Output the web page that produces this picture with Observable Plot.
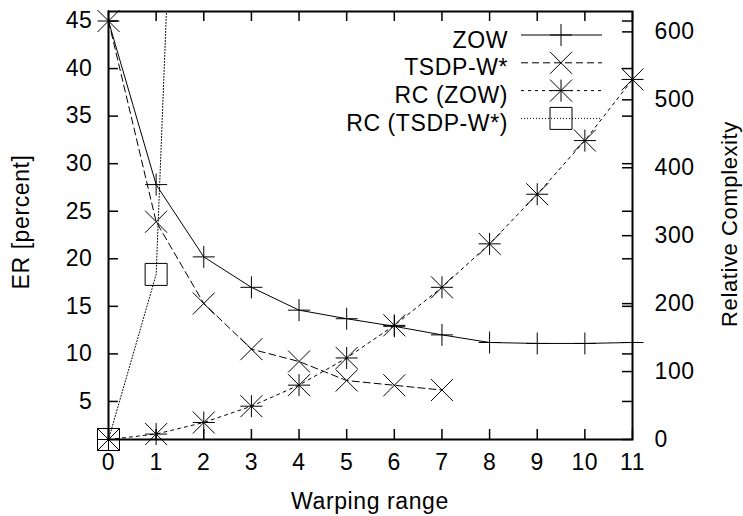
<!DOCTYPE html>
<html><head><meta charset="utf-8">
<script src="https://cdn.jsdelivr.net/npm/d3@7"></script>
<script src="https://cdn.jsdelivr.net/npm/@observablehq/plot@0.6"></script>
<style>html,body{margin:0;padding:0;background:#fff;} svg text{font-family:"Liberation Sans",Arial,sans-serif;letter-spacing:0.6px;}</style>
</head><body><div id="chart"></div>
<script>
// ---- data ----
const warp = [0,1,2,3,4,5,6,7,8,9,10,11];
const zow = [45, 27.8, 20.2, 17.0, 14.6, 13.7, 12.9, 12.0, 11.2, 11.1, 11.1, 11.2];
const tsdpX = [0,1,2,3,4,5,6,7];
const tsdp = [45, 23.9, 15.3, 10.5, 9.2, 7.2, 6.7, 6.2];
const rcZow = [0, 8, 25, 49, 80, 120, 168, 224, 288, 361, 440, 530];
const rcTsdpX = [0,1,2];
const rcTsdp = [0, 243, 2030];
const seriesNames = ["ZOW","TSDP-W*","RC (ZOW)","RC (TSDP-W*)"];
const erTicks = [5,10,15,20,25,30,35,40,45];
const rcTicks = [0,100,200,300,400,500,600];
const xTicks = [0,1,2,3,4,5,6,7,8,9,10,11];
const xLabel = "Warping range", yLabel = "ER [percent]", y2Label = "Relative Complexity";

// ---- scales / layout ----
const erDomain = [1, 46], rcMax = 630, xDomain = [0, 11];
const toEr = v => erDomain[0] + v * (erDomain[1] - erDomain[0]) / rcMax;
const W = 743, H = 516, mL = 108, mR = 111, mT = 11, mB = 77;
const pw = W - mL - mR, ph = H - mT - mB;
const FONT = "23px";

// gnuplot-like symbols (r = half extent)
const mk = f => ({draw(ctx, size){ const r = Math.sqrt(size / Math.PI); f(ctx, r); }});
const plusF = (c, r) => { c.moveTo(-r,0); c.lineTo(r,0); c.moveTo(0,-r); c.lineTo(0,r); };
const timesF = (c, r) => { c.moveTo(-r,-r); c.lineTo(r,r); c.moveTo(-r,r); c.lineTo(r,-r); };
const starF = (c, r) => { plusF(c, r); timesF(c, r); };
const boxF = (c, r) => { c.rect(-r,-r,2*r,2*r); };
const symFns = [plusF, timesF, starF, boxF];
const dashes = [null, "7,4", "3,4", "1,2"];

const zowData = warp.map((x,i) => ({x, y: zow[i]}));
const tsdpData = tsdpX.map((x,i) => ({x, y: tsdp[i]}));
const rcZowData = warp.map((x,i) => ({x, y: toEr(rcZow[i]), v: rcZow[i]}));
const rcTsdpData = rcTsdpX.map((x,i) => ({x, y: toEr(rcTsdp[i]), v: rcTsdp[i]}));
const inRange = d => d.v <= rcMax;

const datasets = [zowData, tsdpData, rcZowData, rcTsdpData];
const lineMarks = datasets.map((data, i) => Plot.line(data, {
  x: "x", y: "y", stroke: "black", strokeWidth: 1,
  strokeDasharray: dashes[i] ?? undefined, clip: true
}));
const dotMarks = datasets.map((data, i) => Plot.dot(data, {
  x: "x", y: "y", r: 11, symbol: mk(symFns[i]), stroke: "black", strokeWidth: 1, fill: "none",
  filter: i >= 2 ? inRange : undefined
}));

const plot = Plot.plot({
  width: W, height: H, marginLeft: mL, marginRight: mR, marginTop: mT, marginBottom: mB,
  style: {fontFamily: '"Liberation Sans", Arial, sans-serif', fontSize: FONT, background: "white", color: "black", overflow: "visible"},
  x: {domain: xDomain},
  y: {domain: erDomain},
  marks: [
    Plot.tickX(xTicks, {x: d => d, insetTop: ph - 10, stroke: "black", strokeWidth: 1.5}),
    Plot.tickX(xTicks, {x: d => d, insetBottom: ph - 10, stroke: "black", strokeWidth: 1.5}),
    Plot.tickY(erTicks, {y: d => d, insetRight: pw - 10, stroke: "black", strokeWidth: 1.5}),
    Plot.tickY(erTicks, {y: d => d, insetLeft: pw - 10, stroke: "black", strokeWidth: 1.5}),
    Plot.tickY(rcTicks.map(toEr), {y: d => d, insetLeft: pw - 10, stroke: "black", strokeWidth: 1.5}),
    Plot.axisX(xTicks, {anchor: "bottom", tickSize: 0, tickPadding: 14, label: null, fontSize: FONT}),
    Plot.axisY(erTicks, {anchor: "left", tickSize: 0, tickPadding: 16, label: null, fontSize: FONT}),
    Plot.axisY(rcTicks.map(toEr), {anchor: "right", tickSize: 0, tickPadding: 22, label: null, fontSize: FONT,
      tickFormat: d => String(Math.round((d - erDomain[0]) * rcMax / (erDomain[1] - erDomain[0])))}),
    ...lineMarks,
    ...dotMarks,
    Plot.frame({stroke: "black", strokeWidth: 2})
  ]
});

// ---- legend & axis titles ----
const svg = d3.select(plot);
const leg = svg.append("g").attr("font-size", FONT).attr("fill", "black");
seriesNames.forEach((name, i) => {
  const yy = 35 + i * 27.8;
  leg.append("text").attr("x", 508).attr("y", yy + 12.5).attr("text-anchor", "end").text(name);
  leg.append("line").attr("x1", 521).attr("x2", 602).attr("y1", yy).attr("y2", yy)
    .attr("stroke", "black").attr("stroke-width", 1).attr("stroke-dasharray", dashes[i]);
  const p = d3.path(); symFns[i](p, 11);
  leg.append("path").attr("d", p.toString()).attr("transform", `translate(561,${yy})`)
    .attr("fill", "none").attr("stroke", "black").attr("stroke-width", 1);
});
const titles = svg.append("g").attr("fill", "black").attr("text-anchor", "middle");
titles.append("text").attr("font-size", FONT).attr("transform", "translate(21,222) rotate(-90)").attr("dominant-baseline", "central").text(yLabel);
titles.append("text").attr("font-size", "22px").attr("transform", "translate(729,224) rotate(-90)").attr("dominant-baseline", "central").text(y2Label);
titles.append("text").attr("font-size", FONT).attr("x", mL + pw / 2).attr("y", 509).text(xLabel);

document.getElementById("chart").appendChild(plot);
</script>
</body></html>
